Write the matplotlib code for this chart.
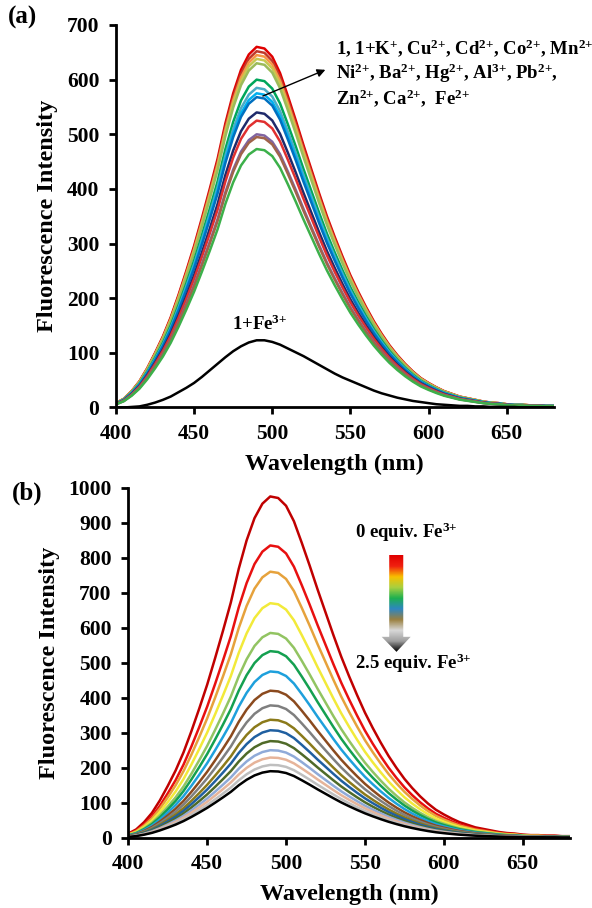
import numpy as np
import matplotlib.pyplot as plt
from matplotlib.patches import Polygon
from matplotlib.colors import LinearSegmentedColormap

plt.rcParams['font.family'] = ['Liberation Serif', 'DejaVu Serif']
plt.rcParams['font.weight'] = 'bold'
plt.rcParams['mathtext.fontset'] = 'custom'
plt.rcParams['mathtext.rm'] = 'Liberation Serif:bold'
plt.rcParams['mathtext.bf'] = 'Liberation Serif:bold'
plt.rcParams['mathtext.it'] = 'Liberation Serif:bold'
plt.rcParams['mathtext.default'] = 'bf'

# wavelength grid (nm)
wavelength = np.arange(400, 681, 5)

# emission of the strongest curve in panel (a)
ref_curve = np.array([
    8, 16, 30, 48, 72, 100, 130, 165, 206, 250, 296, 347, 400, 455, 520,
    575, 618, 646, 660, 657, 642, 612, 570, 526, 480, 436, 392, 350, 312,
    276, 242, 212, 184, 158, 135, 114, 96, 80, 66, 54, 45, 37, 30, 25, 20,
    17, 14, 11, 9, 8, 6, 5, 5, 4, 4, 3, 3])
shape = ref_curve / ref_curve.max()

# 1 + Fe3+ curve in panel (a)
fe3_curve = np.array([
    0, 0, 1, 2, 5, 9, 14, 20, 28, 36, 45, 56, 68, 80, 92, 103, 112, 119,
    123, 123, 120, 115, 108, 101, 94, 86, 78, 70, 62, 55, 49, 43, 37, 31,
    26, 22, 18, 15, 12, 10, 8, 6, 5, 4, 3, 3, 2, 2, 1, 1, 1, 1, 0, 0, 0,
    0, 0])

peaks_a = [660, 652, 645, 638, 630, 600, 585, 575, 568, 540, 525, 500, 495, 473]
colors_a = ['#E00000', '#C0392B', '#F79646', '#C8C850', '#9BBB59', '#00A65A',
            '#4BACC6', '#00B0F0', '#0070C0', '#1F2A6B', '#E03030', '#8064A2',
            '#A0634B', '#3CB04A']

peaks_b = [975, 835, 760, 670, 585, 533, 475, 420, 378, 337, 307, 276,
           250, 229, 208, 190]
colors_b = ['#C00000', '#E81010', '#E6A23C', '#F2EA3A', '#92C462', '#14A050',
            '#1EA0DC', '#8B4A1E', '#7F7F7F', '#8B7A1A', '#1F5FA0', '#4F6A28',
            '#8FAAD8', '#E6B49A', '#BFBFBF', '#000000']

fig = plt.figure(figsize=(5.92, 9.08), dpi=100)
ax_a = fig.add_axes([116 / 592, 1 - 407.5 / 908, 437.5 / 592, 382.5 / 908])
ax_b = fig.add_axes([128.3 / 592, 1 - 837.7 / 908, 441.7 / 592, 350 / 908])


def style_axes(ax, ymax):
    ax.set_xlim(400, 680)
    ax.set_ylim(0, ymax)
    ax.set_xticks(range(400, 651, 50))
    ax.set_yticks(range(0, ymax + 1, 100))
    for side in ['top', 'right']:
        ax.spines[side].set_visible(False)
    for side in ['left', 'bottom']:
        ax.spines[side].set_linewidth(2)
    ax.tick_params(width=2, length=5, labelsize=15.5)
    ax.tick_params(axis='x', pad=7)
    ax.tick_params(axis='y', pad=7)
    for lab in ax.get_xticklabels() + ax.get_yticklabels():
        lab.set_fontweight('bold')
    ax.set_xlabel('Wavelength (nm)', fontsize=17.5, fontweight='bold',
                  labelpad=7)
    ax.set_ylabel('Fluorescence Intensity', fontsize=17.5, fontweight='bold',
                  labelpad=6)


# panel (a)
for p, c in zip(peaks_a, colors_a):
    ax_a.plot(wavelength, shape * p, color=c, lw=1.8)
ax_a.plot(wavelength, fe3_curve, color='black', lw=1.8)
style_axes(ax_a, 700)
ax_a.text(492, 152, '1+Fe$^{3{+}}$', ha='center', va='center', fontsize=13.5)
ax_a.annotate('', xy=(534, 618), xytext=(494, 570),
              arrowprops=dict(arrowstyle='-|>', color='black', lw=1,
                              mutation_scale=12, shrinkA=0, shrinkB=0))
ax_a.text(541, 612,
          '1, 1+K$^{+}$, Cu$^{2{+}}$, Cd$^{2{+}}$, Co$^{2{+}}$, Mn$^{2{+}}$\n'
          'Ni$^{2{+}}$, Ba$^{2{+}}$, Hg$^{2{+}}$, Al$^{3{+}}$, Pb$^{2{+}}$,\n'
          'Zn$^{2{+}}$, Ca$^{2{+}}$,  Fe$^{2{+}}$',
          ha='left', va='center', fontsize=13.5, linespacing=1.15,
          clip_on=False)
fig.text(8 / 592, 1 - 17 / 908, '(a)', fontsize=18, fontweight='bold',
         va='center', ha='left')

# panel (b)
for p, c in zip(peaks_b, colors_b):
    ax_b.plot(wavelength, shape * p, color=c, lw=1.8)
style_axes(ax_b, 1000)
ax_b.text(544, 874, '0 equiv. Fe$^{3{+}}$', ha='left', va='center',
          fontsize=13.5)
ax_b.text(544, 499, '2.5 equiv. Fe$^{3{+}}$', ha='left', va='center',
          fontsize=13.5)
fig.text(12 / 592, 1 - 493 / 908, '(b)', fontsize=18, fontweight='bold',
         va='center', ha='left')

# gradient arrow
grad = LinearSegmentedColormap.from_list(
    'grad', ['#000000', '#A0A0A0', '#D8D8D8', '#9A8040', '#2E86C1',
             '#1DB050', '#A8D040', '#F8C000', '#F02010', '#E00000'])
arrow_pts = [(565.4, 808), (574.3, 808), (574.3, 574), (579, 574),
             (570, 531), (560.6, 574), (565.4, 574)]
img = ax_b.imshow(np.linspace(0, 1, 200).reshape(-1, 1), cmap=grad,
                  origin='lower', extent=[560, 580, 531, 808],
                  aspect='auto', zorder=3)
arrow = Polygon(arrow_pts, closed=True, facecolor='none', edgecolor='none',
                transform=ax_b.transData)
ax_b.add_patch(arrow)
img.set_clip_path(arrow)
ax_b.set_xlim(400, 680)
ax_b.set_ylim(0, 1000)

fig.savefig('out.png', dpi=100)
